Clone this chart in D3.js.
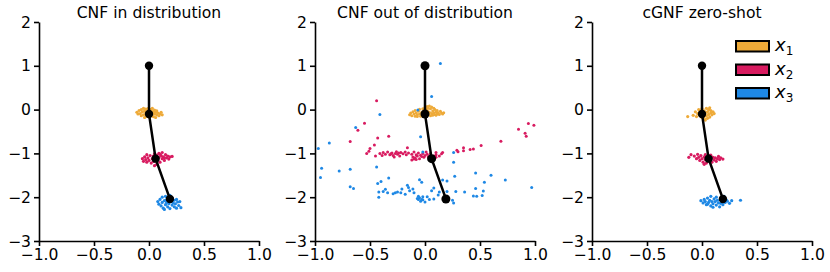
<!DOCTYPE html>
<html>
<head>
<meta charset="utf-8">
<title>CNF vs cGNF</title>
<script src="https://cdn.jsdelivr.net/npm/d3@7"></script>
<style>
  body { margin: 0; background: #fff; }
  text { font-family: "DejaVu Sans", sans-serif; fill: #000; }
</style>
</head>
<body>
<div id="chart"></div>
<script>

var width = 830, height = 272;

var xTicks = [-1, -0.5, 0, 0.5, 1];
var yTicks = [-3, -2, -1, 0, 1, 2];
var titles = ["CNF in distribution", "CNF out of distribution", "cGNF zero-shot"];
var seriesNames = ["1", "2", "3"];
var colors = ["#EEAA38", "#D81B60", "#1E88E5"];

// mean chain, same in every panel
var chain = [[0, 1], [0, -0.1], [0.06, -1.12], [0.19, -2.04]];

// panel 1: CNF in distribution
var inX1 = [[-0.11,-0.06],[-0.09,-0.02],[-0.08,-0.09],[-0.07,0.0],[-0.06,-0.05],[-0.05,-0.12],[-0.05,0.03],[-0.04,-0.03],[-0.03,-0.08],[-0.03,0.01],[-0.02,-0.15],[-0.02,-0.05],[-0.01,0.02],[-0.01,-0.1],[0.0,-0.04],[0.0,-0.17],[0.01,0.0],[0.01,-0.07],[0.02,-0.13],[0.02,-0.02],[0.03,-0.09],[0.03,0.03],[0.04,-0.05],[0.04,-0.16],[0.05,-0.1],[0.05,-0.01],[0.06,-0.06],[0.07,-0.12],[0.07,-0.03],[0.08,-0.08],[0.09,-0.14],[0.10,-0.1],[0.11,-0.06],[-0.10,-0.1],[-0.07,-0.14],[0.12,-0.12],[-0.04,-0.18],[0.06,-0.18]];
var inX2 = [[-0.06,-1.12],[-0.05,-1.18],[-0.04,-1.08],[-0.03,-1.14],[-0.02,-1.2],[-0.01,-1.1],[0.0,-1.16],[0.01,-1.05],[0.02,-1.22],[0.03,-1.12],[0.04,-1.06],[0.04,-1.18],[0.05,-1.01],[0.06,-1.1],[0.07,-1.25],[0.07,-1.04],[0.08,-1.15],[0.09,-1.0],[0.09,-1.09],[0.1,-1.2],[0.11,-1.05],[0.12,-1.12],[0.12,-0.98],[0.13,-1.08],[0.14,-1.16],[0.15,-1.03],[0.16,-1.1],[0.17,-1.06],[0.18,-1.13],[0.19,-1.08],[0.21,-1.07],[0.05,-1.28],[0.1,-1.02],[0.14,-1.1],[-0.02,-1.03]];
var inX3 = [[0.08,-2.1],[0.09,-2.16],[0.1,-2.05],[0.11,-2.2],[0.12,-2.12],[0.12,-2.0],[0.13,-2.25],[0.14,-2.08],[0.15,-2.17],[0.15,-1.98],[0.16,-2.12],[0.17,-2.22],[0.17,-2.04],[0.18,-2.15],[0.19,-1.96],[0.19,-2.26],[0.2,-2.1],[0.21,-2.18],[0.21,-2.02],[0.22,-2.13],[0.23,-2.07],[0.23,-2.22],[0.24,-2.15],[0.25,-2.05],[0.26,-2.11],[0.27,-2.19],[0.28,-2.1],[0.29,-2.24],[0.14,-2.28],[0.2,-1.99],[0.16,-2.06],[0.25,-2.25]];

// panel 2: CNF out of distribution
var oodX1 = [[-0.14,-0.12],[-0.13,-0.08],[-0.12,-0.14],[-0.11,-0.05],[-0.1,-0.1],[-0.09,-0.15],[-0.09,-0.02],[-0.08,-0.08],[-0.07,-0.12],[-0.06,-0.04],[-0.05,-0.1],[-0.05,0.01],[-0.04,-0.15],[-0.03,-0.06],[-0.02,0.02],[-0.02,-0.12],[-0.01,-0.03],[0.0,0.05],[0.0,-0.14],[0.01,-0.08],[0.02,0.07],[0.02,-0.02],[0.03,-0.12],[0.03,0.03],[0.04,0.08],[0.04,-0.06],[0.05,-0.14],[0.05,0.02],[0.06,-0.09],[0.06,0.06],[0.07,-0.03],[0.07,-0.13],[0.08,0.03],[0.08,-0.07],[0.09,-0.11],[0.09,0.0],[0.1,-0.05],[0.11,-0.1],[0.11,-0.02],[0.12,-0.07],[0.13,-0.11],[0.14,-0.04],[0.15,-0.08],[0.16,-0.1],[0.17,-0.07],[-0.07,-0.16],[0.01,0.01],[0.1,-0.13]];
var oodX2 = [[-0.44,0.20],[-0.55,-0.31],[-0.61,-0.47],[-0.68,-0.73],[-0.43,-0.65],[-0.33,-0.61],[-0.46,-0.81],[-0.50,-0.89],[-0.51,-0.95],[-0.53,-1.00],[-0.45,-1.06],[-0.41,-1.00],[-0.39,-1.05],[-0.16,-0.87],
  [-0.38,-0.98],[-0.36,-1.02],[-0.34,-0.97],[-0.32,-1.03],[-0.30,-0.99],[-0.29,-1.05],[-0.27,-1.00],[-0.26,-0.96],[-0.25,-1.02],[-0.23,-1.06],[-0.22,-0.98],[-0.20,-1.01],[-0.18,-0.97],[-0.17,-1.03],[-0.15,-0.99],[-0.12,-1.02],[-0.11,-1.08],[-0.10,-0.97],[-0.09,-1.10],[-0.08,-1.03],[-0.07,-1.06],[-0.06,-0.99],[-0.05,-1.12],[-0.04,-1.04],[-0.03,-1.07],[-0.02,-1.00],[-0.01,-1.09],[0.00,-1.05],[0.02,-1.02],[0.03,-1.08],[0.05,-1.00],[0.08,-1.06],[0.10,-1.03],[-0.10,-1.13],[-0.12,-1.15],[-0.08,-1.14],[-0.28,-1.08],[-0.31,-1.01],[-0.24,-0.99],
  [0.01,-0.97],[0.10,-0.98],[0.13,-1.06],[0.16,-0.98],[0.15,-1.01],[0.10,-1.09],[0.29,-0.93],[0.30,-0.96],[0.35,-0.87],[0.35,-0.94],[0.41,-0.91],[0.44,-0.90],[0.51,-0.82],[0.69,-0.72],[0.85,-0.45],[0.91,-0.54],[0.92,-0.61],[0.94,-0.32],[0.99,-0.36]];
var oodX3 = [[0.14,1.05],[0.06,0.30],[-0.065,-0.01],[-0.41,-0.11],[-0.63,-0.41],[-0.04,-0.62],[-0.97,-0.89],[-0.87,-0.76],[-0.94,-1.34],[-0.95,-1.55],[-0.78,-1.40],[-0.68,-1.36],[-0.68,-1.76],[-0.65,-1.80],[-0.44,-1.31],[-0.43,-1.69],[-0.40,-1.64],[-0.33,-1.56],[-0.42,-1.88],[-0.42,-2.00],[-0.38,-1.87],[-0.36,-1.82],[-0.34,-1.90],[-0.29,-1.92],[-0.27,-1.90],[-0.25,-1.88],[-0.21,-1.81],[-0.22,-1.90],[-0.16,-1.73],[-0.15,-1.78],[-0.14,-1.85],[-0.11,-1.81],[-0.10,-1.90],[-0.18,-1.93],[-0.05,-1.60],[-0.03,-1.66],
  [-0.06,-1.98],[-0.05,-2.01],[-0.03,-2.05],[-0.02,-1.99],[-0.06,-2.05],[-0.04,-2.09],[-0.02,-2.06],[0.00,-2.11],[-0.07,-2.03],[0.02,-1.99],[0.04,-2.05],[0.08,-2.04],[0.06,-1.85],[0.08,-1.79],[0.12,-1.95],[0.13,-1.88],[0.16,-1.61],[0.20,-1.63],[0.20,-1.87],[0.25,-2.07],[0.26,-2.13],[0.27,-1.52],[0.26,-1.20],[0.26,-0.98],[-0.02,-0.97],[0.28,-1.87],[0.36,-1.88],[0.46,-1.45],[0.44,-1.97],[0.47,-1.98],[0.52,-1.96],[0.46,-1.80],[0.53,-1.86],[0.54,-1.66],[0.60,-1.50],[0.73,-1.61],[0.97,-1.78]];

// panel 3: cGNF zero-shot
var zsX1 = [[-0.13,-0.16],[-0.08,-0.13],[-0.06,-0.05],[-0.05,-0.16],[-0.04,-0.09],[-0.03,0.0],[-0.02,-0.13],[-0.01,-0.06],[0.0,-0.18],[0.0,0.02],[0.01,-0.1],[0.02,-0.03],[0.02,-0.2],[0.03,-0.08],[0.04,0.03],[0.04,-0.14],[0.05,-0.05],[0.06,-0.11],[0.06,0.0],[0.07,-0.17],[0.08,-0.07],[0.08,-0.02],[0.09,-0.12],[0.1,-0.05],[0.11,-0.09],[0.03,-0.24],[-0.02,-0.03],[0.05,-0.2],[0.07,0.04],[0.0,-0.1]];
var zsX2 = [[-0.12,-1.09],[-0.1,-1.03],[-0.07,-1.06],[-0.05,-1.12],[-0.04,-1.02],[-0.03,-1.09],[-0.02,-1.16],[-0.01,-1.05],[0.0,-1.12],[0.01,-1.2],[0.02,-1.08],[0.03,-1.14],[0.03,-1.03],[0.04,-1.22],[0.05,-1.1],[0.06,-1.17],[0.07,-1.05],[0.08,-1.13],[0.09,-1.2],[0.1,-1.09],[0.11,-1.15],[0.12,-1.1],[0.13,-1.18],[0.14,-1.12],[0.15,-1.07],[0.16,-1.14],[0.17,-1.1],[0.19,-1.13],[0.02,-1.25],[0.08,-1.04]];
var zsX3 = [[-0.01,-2.08],[0.01,-2.13],[0.02,-2.05],[0.03,-2.1],[0.04,-2.17],[0.05,-2.02],[0.06,-2.12],[0.07,-2.07],[0.08,-2.2],[0.08,-1.98],[0.09,-2.1],[0.1,-2.15],[0.11,-2.04],[0.12,-2.1],[0.13,-2.18],[0.13,-2.0],[0.14,-2.07],[0.15,-2.13],[0.16,-2.22],[0.17,-2.03],[0.18,-2.1],[0.19,-2.17],[0.2,-1.98],[0.21,-2.12],[0.22,-2.06],[0.23,-2.09],[0.25,-2.14],[0.27,-2.08],[0.35,-2.07],[0.1,-2.23],[0.05,-2.16],[0.17,-2.14]];

var panels = [[inX1, inX2, inX3], [oodX1, oodX2, oodX3], [zsX1, zsX2, zsX3]];
var panelLeft = [39, 315, 592];
var plotTop = 22, pw = 220, ph = 219;
var fontSize = "15.6px";

var svg = d3.select("#chart").append("svg")
    .attr("width", width)
    .attr("height", height);

var x = d3.scaleLinear().domain([-1, 1]).range([0, pw]);
var y = d3.scaleLinear().domain([-3, 2]).range([ph, 0]);

panels.forEach(function(sets, p){

  var g = svg.append("g").attr("transform", "translate(" + panelLeft[p] + "," + plotTop + ")");

  g.append("text")
    .attr("x", pw / 2)
    .attr("y", -4)
    .attr("text-anchor", "middle")
    .style("font-size", fontSize)
    .text(titles[p]);

  sets.forEach(function(pts, s){
    g.selectAll(".pt" + s)
      .data(pts)
      .enter()
      .append("circle")
      .attr("cx", function(d){ return x(d[0]); })
      .attr("cy", function(d){ return y(d[1]); })
      .attr("r", p == 1 ? 1.5 : 1.6)
      .attr("fill", colors[s]);
  });

  g.append("path")
    .datum(chain)
    .attr("d", d3.line().x(function(d){ return x(d[0]); }).y(function(d){ return y(d[1]); }))
    .attr("fill", "none")
    .attr("stroke", "#000")
    .attr("stroke-width", 2.5);

  g.selectAll(".node")
    .data(chain)
    .enter()
    .append("circle")
    .attr("cx", function(d){ return x(d[0]); })
    .attr("cy", function(d){ return y(d[1]); })
    .attr("r", p == 1 ? 4.5 : 4.2)
    .attr("fill", "#000");

  var ax = g.append("g")
    .attr("transform", "translate(0," + ph + ")")
    .call(d3.axisBottom(x).tickValues(xTicks).tickFormat(d3.format(".1f")).tickSize(5).tickSizeOuter(0).tickPadding(3));
  var ay = g.append("g")
    .call(d3.axisLeft(y).tickValues(yTicks).tickFormat(d3.format("d")).tickSize(5).tickSizeOuter(0).tickPadding(3));

  [ax, ay].forEach(function(a){
    a.select(".domain").attr("stroke", "#000").attr("stroke-width", 1.6);
    a.selectAll(".tick line").attr("stroke", "#000").attr("stroke-width", 1.6);
    a.selectAll(".tick text").style("font-size", fontSize).style("font-family", "DejaVu Sans").attr("fill", "#000");
  });

  if (p == 2) {
    var lg = svg.append("g").attr("transform", "translate(736,41)");
    seriesNames.forEach(function(n, i){
      lg.append("rect")
        .attr("x", 0)
        .attr("y", i * 23.5)
        .attr("width", 33)
        .attr("height", 10.5)
        .attr("fill", colors[i])
        .attr("stroke", "#000")
        .attr("stroke-width", 2);
      var t = lg.append("text")
        .attr("x", 39)
        .attr("y", i * 23.5 + 10)
        .style("font-size", "18px");
      t.append("tspan").style("font-style", "italic").text("x");
      t.append("tspan").attr("dy", 4).style("font-size", "12px").text(n);
    });
  }
});

</script>
</body>
</html>
